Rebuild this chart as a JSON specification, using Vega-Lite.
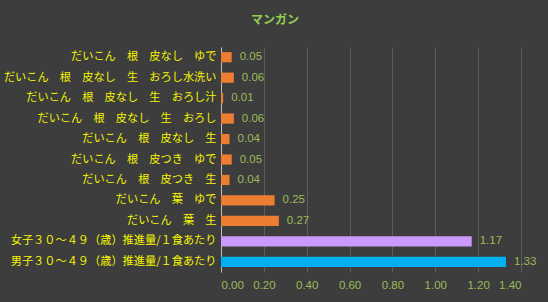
{
  "$schema": "https://vega.github.io/schema/vega-lite/v6.json",
  "width": 300,
  "height": 225,
  "autosize": {"type": "none"},
  "padding": {"left": 221, "top": 47, "right": 27, "bottom": 30},
  "background": "#3d3d3d",
  "config": {"view": {"stroke": null}, "font": "Noto Sans CJK JP"},
  "title": {"text": "マンガン", "color": "#92d050", "fontSize": 12, "font": "Noto Sans CJK JP", "fontWeight": "bold", "anchor": "middle", "dx": -96, "offset": 20},
  "data": {"values": [
    {"label": "だいこん　根　皮なし　ゆで", "value": 0.05, "kind": "food"},
    {"label": "だいこん　根　皮なし　生　おろし水洗い", "value": 0.06, "kind": "food"},
    {"label": "だいこん　根　皮なし　生　おろし汁", "value": 0.01, "kind": "food"},
    {"label": "だいこん　根　皮なし　生　おろし", "value": 0.06, "kind": "food"},
    {"label": "だいこん　根　皮なし　生", "value": 0.04, "kind": "food"},
    {"label": "だいこん　根　皮つき　ゆで", "value": 0.05, "kind": "food"},
    {"label": "だいこん　根　皮つき　生", "value": 0.04, "kind": "food"},
    {"label": "だいこん　葉　ゆで", "value": 0.25, "kind": "food"},
    {"label": "だいこん　葉　生", "value": 0.27, "kind": "food"},
    {"label": "女子３０～４９（歳）推進量/１食あたり", "value": 1.17, "kind": "female"},
    {"label": "男子３０～４９（歳）推進量/１食あたり", "value": 1.33, "kind": "male"}
  ]},
  "encoding": {
    "y": {"field": "label", "type": "nominal", "sort": null,
      "scale": {"paddingInner": 0.5, "paddingOuter": 0.25},
      "axis": {"title": null, "labelColor": "#f5f500", "labelFont": "Noto Sans CJK JP", "labelFontSize": 11.2, "ticks": false, "domain": true, "domainColor": "#bfbfbf", "labelPadding": 5, "labelLimit": 300}},
    "x": {"field": "value", "type": "quantitative",
      "scale": {"domain": [0, 1.4], "nice": false},
      "axis": {"title": null, "values": [0, 0.2, 0.4, 0.6, 0.8, 1.0, 1.2, 1.4], "format": ".2f", "grid": true, "gridColor": "#5c5c5c", "labelColor": "#9bbb59", "labelFontSize": 11.5, "labelFont": "Liberation Sans", "domain": false, "ticks": false, "labelPadding": 7}}
  },
  "layer": [
    {"mark": {"type": "bar"},
     "encoding": {"color": {"field": "kind", "type": "nominal", "legend": null,
       "scale": {"domain": ["food", "female", "male"], "range": ["#ed7d31", "#cc99ff", "#00b0f0"]}}}},
    {"mark": {"type": "text", "align": "left", "dx": 8, "color": "#9bbb59", "fontSize": 11.5, "font": "Liberation Sans"},
     "encoding": {"text": {"field": "value", "type": "quantitative", "format": ".2f"}}}
  ]
}
